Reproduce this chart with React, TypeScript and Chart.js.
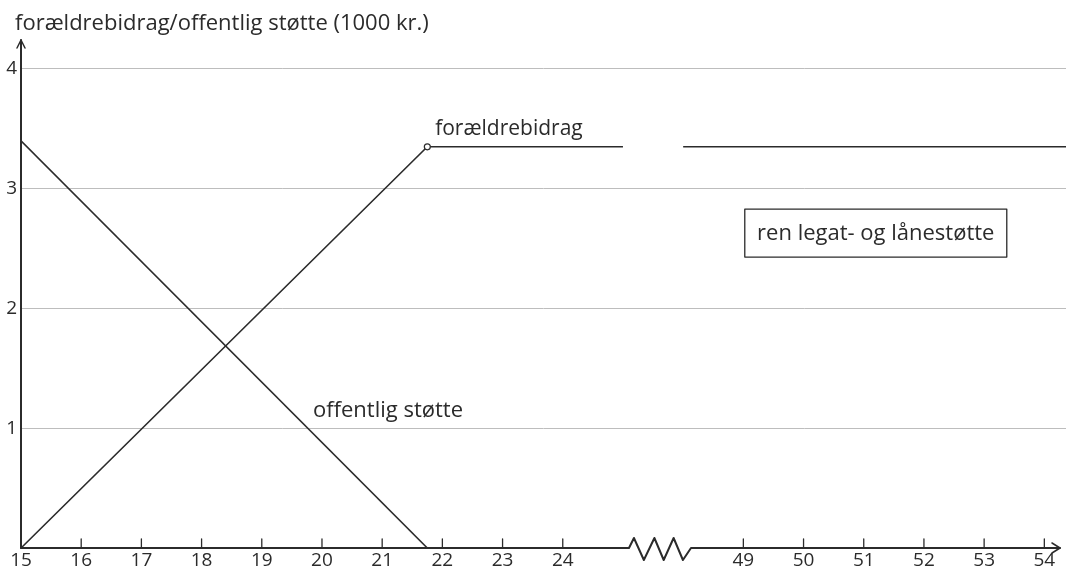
import React, { useEffect, useRef } from "react";
import { Chart, registerables } from "chart.js";

Chart.register(...registerables);

// ---- data ----
const ageTicksLow = [15, 16, 17, 18, 19, 20, 21, 22, 23, 24];
const ageTicksHigh = [49, 50, 51, 52, 53, 54];
const yTickValues = [0, 1, 2, 3, 4];

const offentligAges = [15, 21.75];
const offentligValues = [3.4, 0];

const foraeldreAges = [15, 21.75, 25, 36, 48, 55];
const foraeldreValues: (number | null)[] = [0, 3.35, 3.35, null, 3.35, 3.35];
const foraeldreMarker = [0, 3, 0, 0, 0, 0];

const titleText = "forældrebidrag/offentlig støtte (1000 kr.)";
const labelForaeldre = { text: "forældrebidrag", age: 21.88, value: 3.45 };
const labelOffentlig = { text: "offentlig støtte", age: 19.85, value: 1.09 };
const labelBox = { text: "ren legat- og lånestøtte", age: 51.2, value: 2.63 };

// axis break: ages 25..48 are cut out
const BREAK_LOW = 25;
const BREAK_HIGH = 48;
const BREAK_SHIFT = 22;
const ZIG_FROM = 25.1;
const ZIG_TO = 26.13;

const toPos = (age: number) =>
  age <= BREAK_LOW ? age : age >= BREAK_HIGH ? age - BREAK_SHIFT : BREAK_LOW + 0.5;

const allTickAges = [...ageTicksLow, ...ageTicksHigh];
const FONT = "'Open Sans', Lato, sans-serif";
const INK = "#2b2b2b";

export default function App() {
  const ref = useRef<HTMLCanvasElement | null>(null);

  useEffect(() => {
    document.body.style.margin = "0";
    const canvas = ref.current;
    if (!canvas) return;

    const decor = {
      id: "decor",
      afterDraw(chart: any) {
        const ctx = chart.ctx as CanvasRenderingContext2D;
        const xs = chart.scales.x;
        const ys = chart.scales.y;
        const x0 = xs.getPixelForValue(15);
        const y0 = ys.getPixelForValue(0);
        ctx.save();
        ctx.strokeStyle = INK;
        ctx.fillStyle = INK;
        ctx.lineCap = "round";
        ctx.lineJoin = "round";

        // y axis with arrow
        ctx.lineWidth = 2;
        ctx.beginPath();
        ctx.moveTo(x0, y0);
        ctx.lineTo(x0, 40);
        ctx.stroke();
        ctx.lineWidth = 1.5;
        ctx.beginPath();
        ctx.moveTo(x0 - 4, 48);
        ctx.lineTo(x0, 40);
        ctx.lineTo(x0 + 4, 48);
        ctx.stroke();

        // x axis with break zigzag
        const zx1 = xs.getPixelForValue(ZIG_FROM);
        const zx2 = xs.getPixelForValue(ZIG_TO);
        const tipX = chart.chartArea.right - 6;
        ctx.lineWidth = 2;
        ctx.beginPath();
        ctx.moveTo(x0, y0);
        ctx.lineTo(zx1, y0);
        const fr = [0.08, 0.24, 0.41, 0.56, 0.72, 0.87, 1.0];
        const dy = [-10, 12, -10, 12, -10, 12, 0];
        fr.forEach((f, i) => ctx.lineTo(zx1 + (zx2 - zx1) * f, y0 + dy[i]));
        ctx.lineTo(tipX, y0);
        ctx.stroke();
        ctx.lineWidth = 1.5;
        ctx.beginPath();
        ctx.moveTo(tipX - 8, y0 - 5);
        ctx.lineTo(tipX, y0);
        ctx.lineTo(tipX - 8, y0 + 5);
        ctx.stroke();

        // upward tick marks
        ctx.lineWidth = 1.3;
        allTickAges.forEach((a, i) => {
          if (i === 0) return;
          const px = xs.getPixelForValue(toPos(a));
          ctx.beginPath();
          ctx.moveTo(px, y0);
          ctx.lineTo(px, y0 - 9);
          ctx.stroke();
        });

        // title
        ctx.font = `22px ${FONT}`;
        ctx.textAlign = "left";
        ctx.textBaseline = "alphabetic";
        ctx.fillText(titleText, 15, 30);

        // line labels
        ctx.font = `21px ${FONT}`;
        ctx.fillText(
          labelForaeldre.text,
          xs.getPixelForValue(toPos(labelForaeldre.age)),
          ys.getPixelForValue(labelForaeldre.value)
        );
        ctx.font = `22px ${FONT}`;
        ctx.fillText(
          labelOffentlig.text,
          xs.getPixelForValue(toPos(labelOffentlig.age)),
          ys.getPixelForValue(labelOffentlig.value)
        );

        // boxed label
        const bx = xs.getPixelForValue(toPos(labelBox.age));
        const by = ys.getPixelForValue(labelBox.value);
        const bw = 262;
        const bh = 48;
        ctx.lineWidth = 1.3;
        ctx.strokeRect(bx - bw / 2, by - bh / 2, bw, bh);
        ctx.textAlign = "center";
        ctx.textBaseline = "middle";
        ctx.fillText(labelBox.text, bx, by + 1);
        ctx.restore();
      },
    };

    const chart = new Chart(canvas, {
      type: "line",
      data: {
        datasets: [
          {
            label: "offentlig støtte",
            data: offentligAges.map((a, i) => ({ x: toPos(a), y: offentligValues[i] })),
            borderColor: INK,
            borderWidth: 1.6,
            pointRadius: 0,
            tension: 0,
          },
          {
            label: "forældrebidrag",
            data: foraeldreAges.map((a, i) => ({ x: toPos(a), y: foraeldreValues[i] as any })),
            borderColor: INK,
            borderWidth: 1.6,
            pointRadius: foraeldreMarker,
            pointBackgroundColor: "#ffffff",
            pointBorderColor: INK,
            pointBorderWidth: 1.2,
            spanGaps: false,
            tension: 0,
          },
        ],
      },
      options: {
        responsive: false,
        animation: false,
        events: [],
        layout: { padding: { top: 45, right: 0, left: 0, bottom: 0 } },
        plugins: {
          legend: { display: false },
          tooltip: { enabled: false },
          title: { display: false },
        },
        scales: {
          x: {
            type: "linear",
            min: 15,
            max: 32.36,
            afterBuildTicks: (s: any) => {
              s.ticks = allTickAges.map((a) => ({ value: toPos(a) }));
            },
            afterFit: (s: any) => {
              s.height = 22;
            },
            ticks: {
              autoSkip: false,
              maxRotation: 0,
              padding: 1,
              color: INK,
              font: { family: FONT, size: 19 },
              callback: (_v: any, i: number) => String(allTickAges[i]),
            },
            grid: { display: false, drawTicks: false },
            border: { display: false },
          },
          y: {
            type: "linear",
            min: 0,
            max: 4.2,
            afterBuildTicks: (s: any) => {
              s.ticks = yTickValues.map((v) => ({ value: v }));
            },
            afterFit: (s: any) => {
              s.width = 21;
            },
            ticks: {
              padding: 4,
              color: INK,
              font: { family: FONT, size: 19 },
              callback: (v: any) => (v === 0 ? "" : String(v)),
            },
            grid: {
              drawTicks: false,
              lineWidth: 1,
              color: (c: any) => (c.tick && c.tick.value === 0 ? "rgba(0,0,0,0)" : "#bdbdbd"),
            },
            border: { display: false },
          },
        },
      },
      plugins: [decor],
    });

    return () => chart.destroy();
  }, []);

  return <canvas ref={ref} width={1066} height={570} style={{ display: "block" }} />;
}
